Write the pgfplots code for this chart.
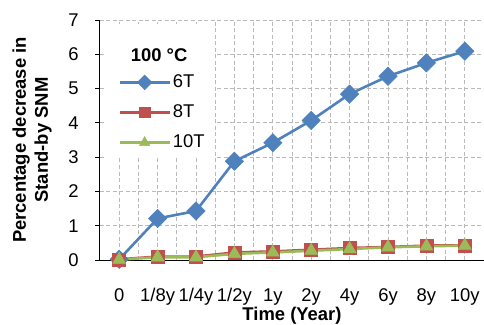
\documentclass[border=0pt]{standalone}
\usepackage{fontspec}
\setmainfont{Liberation Sans}
\usepackage{pgfplots}
\pgfplotsset{compat=1.18}
\definecolor{cA}{HTML}{4F81BD}
\definecolor{cB}{HTML}{C0504D}
\definecolor{cC}{HTML}{9BBB59}
\definecolor{gridc}{RGB}{185,185,185}
\newcommand{\bigf}{\fontsize{18.5}{21}\selectfont}
\begin{document}
\bigf
\begin{tikzpicture}
\path[use as bounding box] (-100bp,-65bp) rectangle (384bp,260bp);
\begin{axis}[
  at={(0,0)}, anchor=south west,
  scale only axis, width=384bp, height=240bp,
  xmin=-0.5, xmax=9.5, ymin=0, ymax=7,
  xtick={0,...,9},
  xticklabels={0,1/8y,1/4y,1/2y,1y,2y,4y,6y,8y,10y},
  ytick={0,...,7},
  minor x tick num=1,
  xmajorgrids, xminorgrids, ymajorgrids,
  major grid style={gridc, line width=0.9bp, dash pattern=on 4bp off 2.5bp},
  minor grid style={gridc, line width=0.9bp, dash pattern=on 4bp off 2.5bp},
  axis x line*=bottom, axis y line*=left,
  axis line style={-, line width=1bp, black},
  tick align=outside,
  major tick length=5bp,
  x tick style={draw=none},
  minor x tick style={draw=none},
  y tick style={line width=1bp, black},
  /pgf/number format/assume math mode=true,
  tick label style={font=\bigf},
  xticklabel style={anchor=base, yshift=-36bp, inner sep=0pt},
  yticklabel style={anchor=east, xshift=-10bp},
  xlabel={Time (Year)},
  xlabel style={font=\bigf\bfseries, at={(axis description cs:0.5,-0.253)}, anchor=base, inner sep=0pt},
  ylabel={Percentage decrease in\\Stand-by SNM},
  ylabel style={font=\fontsize{18.5}{22}\selectfont\bfseries, align=center, at={(axis description cs:-0.177,0.5)}, anchor=center},
  legend cell align=left,
  legend style={at={(axis description cs:0.042,0.79)}, anchor=north west, draw=none, fill=none,
    font=\bigf, row sep=10.5bp, inner sep=2bp},
  legend image code/.code={
    \draw[mark repeat=2,mark phase=2,every mark/.append style={scale=0.8}] plot coordinates {(0bp,0bp) (25bp,0bp) (50bp,0bp)};
  },
]
\fill[white] (rel axis cs:0.013,0.425) rectangle (rel axis cs:0.30,0.983);
\node[font=\bigf\bfseries] at (rel axis cs:0.154,0.855) {100 °C};
\addplot[cA, line width=2.6bp, mark=square*, mark size=6.5bp, mark options={rotate=45, fill=cA, draw=cA, line width=0.5bp}]
  coordinates {(0,0.02) (1,1.21) (2,1.43) (3,2.88) (4,3.42) (5,4.07) (6,4.84) (7,5.36) (8,5.75) (9,6.09)};
\addlegendentry{6T}
\addplot[cB, line width=2.6bp, mark=square*, mark size=6.5bp, mark options={fill=cB, draw=cB, line width=0.5bp}]
  coordinates {(0,0.02) (1,0.1) (2,0.1) (3,0.22) (4,0.25) (5,0.3) (6,0.35) (7,0.38) (8,0.42) (9,0.43)};
\addlegendentry{8T}
\addplot[cC, line width=2.6bp, mark=triangle*, mark size=7.5bp, mark options={fill=cC, draw=cC, line width=0.5bp}]
  coordinates {(0,0.01) (1,0.08) (2,0.08) (3,0.18) (4,0.22) (5,0.27) (6,0.32) (7,0.37) (8,0.40) (9,0.42)};
\addlegendentry{10T}
\end{axis}
\end{tikzpicture}
\end{document}
